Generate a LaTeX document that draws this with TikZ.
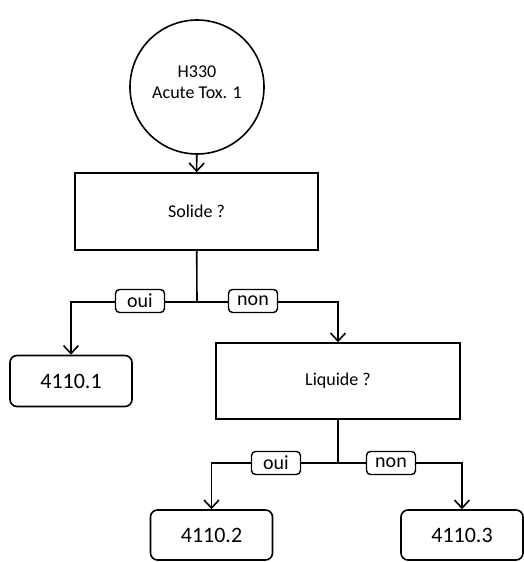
\documentclass[tikz,border=0pt]{standalone}
\usepackage{fontspec}
\setmainfont{Carlito}
\usetikzlibrary{arrows.meta,positioning}

\begin{document}
\begin{tikzpicture}[x=1pt,y=-1pt,line width=1.6pt,
  arr/.style={-{Straight Barb[length=8pt,width=15pt,line width=1.6pt]}},
  question/.style={draw,rectangle,minimum width=243pt,minimum height=77pt,font=\fontsize{18}{21}\selectfont},
  result/.style={draw,rectangle,rounded corners=7pt,minimum width=122pt,minimum height=51pt,font=\fontsize{22}{26}\selectfont},
  answer/.style={draw,rectangle,rounded corners=4pt,fill=white,line width=1.4pt,minimum width=49pt,minimum height=23pt,inner sep=1pt,font=\fontsize{20}{23}\selectfont}]
\useasboundingbox (0,0) rectangle (524,562);
% nodes
\node [draw,circle,minimum size=134pt] (haz) at (197,87) {};
\node [align=center,font=\fontsize{18}{21}\selectfont] (hazlabel) at (197,82) {H330\\Acute Tox. 1};
\node [question] (solide) at (196.5,211.5) {Solide ?};
\node [result] (r1) at (71,381) {4110.1};
\node [question,minimum width=244pt,minimum height=76pt] (liquide) at (338,381) {Liquide ?};
\node [result,minimum height=50pt] (r2) at (211.5,535) {4110.2};
\node [result,minimum height=50pt] (r3) at (462,535) {4110.3};
\coordinate (j1) at (197,302);
\coordinate (j2) at (338,463);
% connectors
\draw [arr] (haz) -- (solide);
\draw (solide) -- (j1);
\draw [arr] (j1) -| (r1);
\draw [arr] (j1) -| (liquide);
\draw (liquide) -- (j2);
\draw [arr] (j2) -| (r2);
\draw [arr] (j2) -| (r3);
% labels
\node [answer] (oui1) at (140,301) {oui};
\node [answer] (non1) at (253,301) {non};
\node [answer] (oui2) at (276,463) {oui};
\node [answer] (non2) at (391,463) {non};
\end{tikzpicture}
\end{document}
